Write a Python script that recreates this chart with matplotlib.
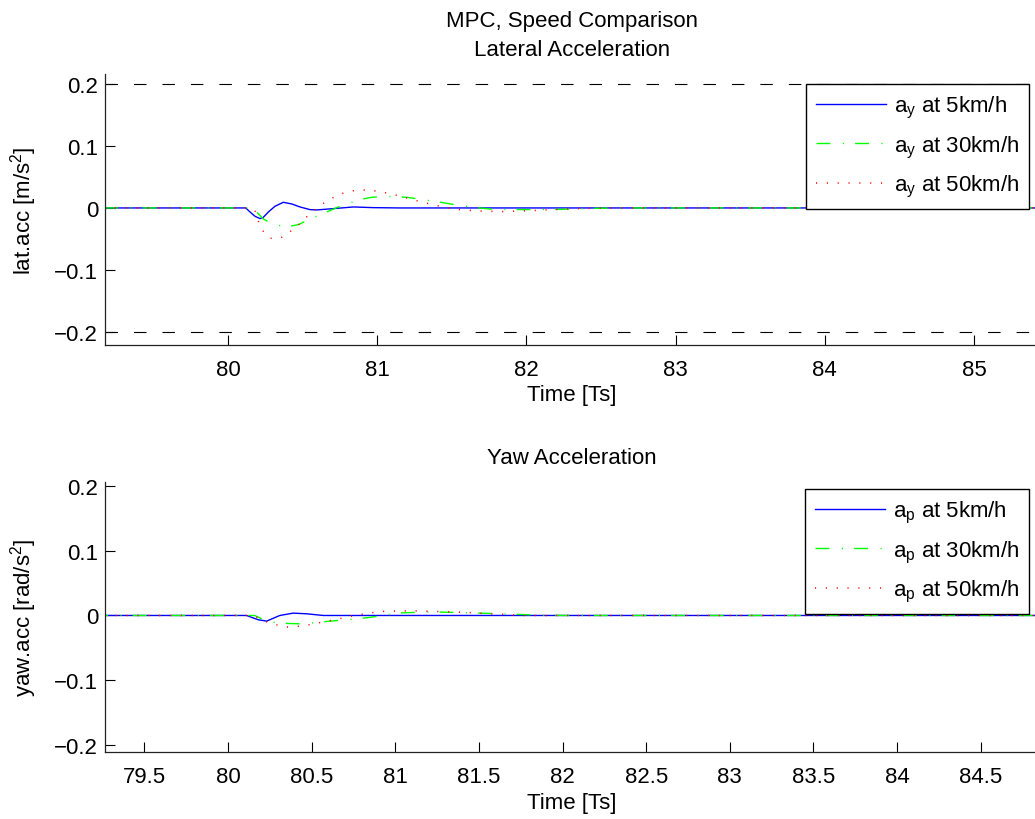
import matplotlib
matplotlib.use('Agg')
import matplotlib.pyplot as plt
import matplotlib.ticker as mticker

plt.rcParams['font.family'] = ['Liberation Sans', 'DejaVu Sans']
plt.rcParams['mathtext.fontset'] = 'custom'
plt.rcParams['mathtext.rm'] = 'Liberation Sans'
plt.rcParams['lines.scale_dashes'] = False
plt.rcParams['axes.unicode_minus'] = True

FS = 16

# lateral acceleration
t_lat_5 = [79.17, 80.119, 80.148, 80.181, 80.215, 80.237, 80.271, 80.315, 80.371, 80.427,
           80.483, 80.550, 80.595, 80.706, 80.841, 80.975, 81.153, 85.5]
lat_5 = [0, 0, -0.0065, -0.0134, -0.0172, -0.0151, -0.0065, 0.0027, 0.0091, 0.0065,
         0.0016, -0.0027, -0.0032, -0.0011, 0.0016, 0.0005, 0, 0]

t_lat_30 = [79.17, 80.15, 80.177, 80.237, 80.300, 80.394, 80.472, 80.528, 80.630, 80.673,
            80.740, 80.852, 80.896, 80.963, 81.079, 81.198, 81.314, 81.426, 81.544,
            81.66, 81.779, 82.011, 82.237, 82.472, 82.7, 85.5]
lat_30 = [0, 0, -0.0027, -0.0177, -0.0263, -0.0306, -0.0269, -0.0204, -0.0097, -0.0054,
          0.0016, 0.0108, 0.014, 0.0172, 0.0185, 0.0172, 0.0132, 0.0091, 0.0043,
          0.0005, -0.0022, -0.0027, -0.0022, -0.0005, 0, 0]

t_lat_50 = [79.17, 80.15, 80.181, 80.204, 80.233, 80.282, 80.354, 80.411, 80.468, 80.519,
            80.575, 80.630, 80.691, 80.756, 80.827, 80.899, 80.970, 81.041, 81.113,
            81.182, 81.254, 81.325, 81.392, 81.466, 81.533, 81.607, 81.681, 81.752,
            81.823, 81.895, 81.969, 82.043, 82.114, 82.185, 82.259, 82.331, 82.405,
            82.6, 85.5]
lat_50 = [0, 0, -0.0043, -0.0215, -0.0366, -0.0489, -0.0484, -0.0392, -0.0285, -0.0161,
          -0.0043, 0.0059, 0.0151, 0.0226, 0.0274, 0.029, 0.028, 0.0253, 0.0215,
          0.0172, 0.0124, 0.0081, 0.0043, 0.0005, -0.0022, -0.0038, -0.0048, -0.0054,
          -0.0059, -0.0054, -0.0048, -0.0043, -0.0032, -0.0027, -0.0016, -0.0011, -0.0005,
          0, 0]

# yaw acceleration
t_yaw_5 = [79.2, 80.111, 80.181, 80.231, 80.310, 80.390, 80.470, 80.569, 85.0]
yaw_5 = [0, 0, -0.0066, -0.0087, 0, 0.0036, 0.0026, 0, 0]

t_yaw_30 = [79.2, 80.16, 80.231, 80.32, 80.45, 80.6, 80.78, 80.86, 80.93, 81.03,
            81.23, 81.45, 81.65, 81.86, 82.0, 85.0]
yaw_30 = [0, 0, -0.0087, -0.012, -0.013, -0.009, -0.005, -0.0025, 0, 0.004,
          0.0055, 0.004, 0.0025, 0.0005, 0, 0]

t_yaw_50 = [79.2, 80.15, 80.25, 80.35, 80.45, 80.55, 80.665, 80.729, 80.792, 80.854,
            80.920, 80.984, 81.049, 81.113, 81.178, 81.242, 81.306, 81.372, 81.435,
            81.501, 81.565, 81.629, 81.694, 81.758, 85.0]
yaw_50 = [0, 0, -0.012, -0.018, -0.016, -0.011, -0.005, -0.0015, 0.0015, 0.0041,
          0.0062, 0.0067, 0.0072, 0.0072, 0.0067, 0.0062, 0.0057, 0.0051, 0.0046,
          0.0036, 0.0026, 0.0021, 0.001, 0, 0]

lat_ticks = [80, 81, 82, 83, 84, 85]
yaw_ticks = [79.5, 80, 80.5, 81, 81.5, 82, 82.5, 83, 83.5, 84, 84.5]
y_ticks = [-0.2, -0.1, 0, 0.1, 0.2]
speeds = ['5km/h', '30km/h', '50km/h']

BLUE = (0, 0, 1)
GREEN = (0, 1, 0)
RED = (1, 0, 0)
DASHDOT = (0, (10, 9, 0.8, 8))
DOTTED = (0, (0.8, 7))
DASHED = (0, (9, 11.5))


def fmt(v, pos):
    s = '%g' % round(v, 6)
    if s == '-0':
        s = '0'
    return s.replace('-', '\u2212')


def style_axes(ax, ticks, xlim, ylim):
    ax.set_xlim(*xlim)
    ax.set_ylim(*ylim)
    ax.set_xticks(ticks)
    ax.set_yticks(y_ticks)
    ax.xaxis.set_major_formatter(mticker.FuncFormatter(fmt))
    ax.yaxis.set_major_formatter(mticker.FuncFormatter(fmt))
    for side in ['top', 'right']:
        ax.spines[side].set_visible(False)
    for side in ['left', 'bottom']:
        ax.spines[side].set_color('#222222')
        ax.spines[side].set_linewidth(0.9)
    ax.tick_params(axis='both', direction='in', length=7, width=0.8, colors='k',
                   labelsize=FS, top=False, right=False)
    ax.tick_params(axis='x', pad=10)
    ax.tick_params(axis='y', pad=5)


fig = plt.figure(figsize=(10.35, 8.2), dpi=100)
W, H = 1035.0, 820.0
ax1 = fig.add_axes([105 / W, 1 - 346 / H, 934 / W, 271 / H])
ax2 = fig.add_axes([105 / W, 1 - 753 / H, 934 / W, 270 / H])

# top panel
ax1.plot(t_lat_5, lat_5, color=BLUE, lw=1.0, label=r'a$_\mathregular{y}$ at ' + speeds[0])
ax1.plot(t_lat_30, lat_30, color=GREEN, lw=1.0, linestyle=DASHDOT,
         label=r'a$_\mathregular{y}$ at ' + speeds[1])
ax1.plot(t_lat_50, lat_50, color=RED, lw=1.1, linestyle=DOTTED,
         label=r'a$_\mathregular{y}$ at ' + speeds[2])
ax1.axhline(0.2, color='k', lw=0.8, linestyle=DASHED)
ax1.axhline(-0.2, color='k', lw=0.8, linestyle=DASHED)
style_axes(ax1, lat_ticks, (79.176, 85.436), (-0.221, 0.216))
ax1.set_title('MPC, Speed Comparison\nLateral Acceleration', fontsize=FS, pad=14,
              linespacing=1.45)
ax1.set_xlabel('Time [Ts]', fontsize=FS)
ax1.set_ylabel(r'lat.acc [m/s$^\mathregular{2}$]', fontsize=FS)
ax1.xaxis.set_label_coords(0.5, -0.145)
ax1.yaxis.set_label_coords(-0.071, 0.5)

# bottom panel
ax2.plot(t_yaw_5, yaw_5, color=BLUE, lw=1.0, label=r'a$_\mathregular{p}$ at ' + speeds[0])
ax2.plot(t_yaw_30, yaw_30, color=GREEN, lw=1.0, linestyle=DASHDOT,
         label=r'a$_\mathregular{p}$ at ' + speeds[1])
ax2.plot(t_yaw_50, yaw_50, color=RED, lw=1.1, linestyle=DOTTED,
         label=r'a$_\mathregular{p}$ at ' + speeds[2])
style_axes(ax2, yaw_ticks, (79.265, 84.848), (-0.2104, 0.2057))
ax2.set_title('Yaw Acceleration', fontsize=FS, pad=14)
ax2.set_xlabel('Time [Ts]', fontsize=FS)
ax2.set_ylabel(r'yaw.acc [rad/s$^\mathregular{2}$]', fontsize=FS)
ax2.xaxis.set_label_coords(0.5, -0.15)
ax2.yaxis.set_label_coords(-0.071, 0.5)

for ax, top in [(ax1, 85), (ax2, 490)]:
    leg = ax.legend(loc='upper right', bbox_to_anchor=(1029 / W, 1 - top / H),
                    bbox_transform=fig.transFigure, borderaxespad=0, fontsize=FS,
                    fancybox=False, framealpha=1, edgecolor='k', handlelength=3.15,
                    handletextpad=0.35, labelspacing=0.6, borderpad=0.45)
    leg.get_frame().set_linewidth(1.0)

fig.savefig('out.png', dpi=100)
